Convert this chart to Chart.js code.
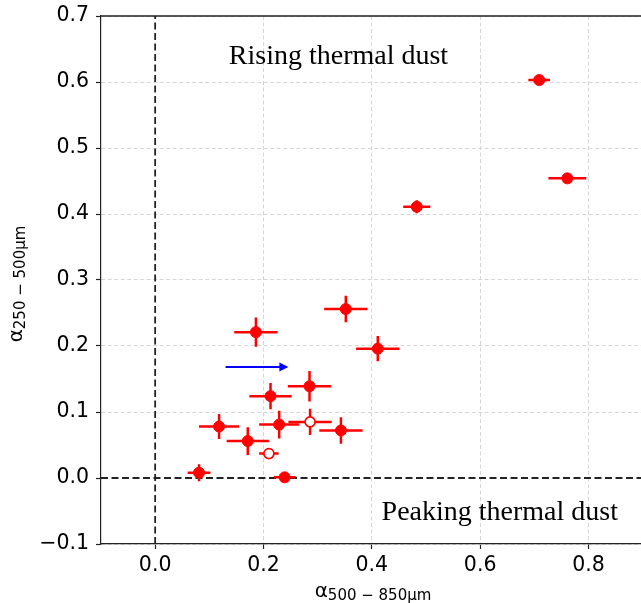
<!DOCTYPE html>
<html>
<head>
<meta charset="utf-8">
<script src="https://cdn.jsdelivr.net/npm/chart.js@4/dist/chart.umd.min.js"></script>
<style>
  html, body { margin: 0; padding: 0; background: #fff; overflow: hidden; }
  #wrap { width: 641px; height: 603px; }
</style>
</head>
<body>
<div id="wrap"><canvas id="dust" width="641" height="603"></canvas></div>
<script>
// filled points: alpha(500-850um) vs alpha(250-500um)
const fillX    = [0.709, 0.761, 0.483, 0.352, 0.411, 0.186, 0.285, 0.213, 0.118, 0.229, 0.343, 0.171, 0.081, 0.239];
const fillY    = [0.603, 0.454, 0.411, 0.256, 0.196, 0.221, 0.139, 0.124, 0.078, 0.081, 0.072, 0.056, 0.008, 0.001];
const fillXErr = [0.020, 0.035, 0.025, 0.040, 0.040, 0.040, 0.040, 0.039, 0.037, 0.037, 0.040, 0.039, 0.021, 0.020];
const fillYErr = [0.006, 0.006, 0.010, 0.020, 0.019, 0.022, 0.023, 0.020, 0.019, 0.021, 0.020, 0.021, 0.013, 0.006];

// open points
const openX    = [0.286, 0.210];
const openY    = [0.085, 0.037];
const openXErr = [0.040, 0.018];
const openYErr = [0.020, 0.004];

// blue arrow (start, end)
const arrowX = [0.130, 0.246];
const arrowY = [0.168, 0.168];

const xTicks = [0.0, 0.2, 0.4, 0.6, 0.8];
const yTicks = [-0.1, 0.0, 0.1, 0.2, 0.3, 0.4, 0.5, 0.6, 0.7];
const xMin = -0.1, xMax = 0.897;
const yMin = -0.1, yMax = 0.7;

const labelRising = 'Rising thermal dust';
const labelPeaking = 'Peaking thermal dust';

const RED = '#ff0000';
const sans = '"DejaVu Sans", sans-serif';

function pts(xs, ys) {
    return xs.map((x, i) => ({ x: x, y: ys[i] }));
}

function fmt(v) {
    const s = Math.abs(v).toFixed(1);
    return v < 0 ? '\u2212' + s : s;
}

function drawSubLabel(ctx, main, sub, x, y, rotate) {
    ctx.save();
    ctx.translate(x, y);
    if (rotate) ctx.rotate(-Math.PI / 2);
    ctx.fillStyle = '#000';
    ctx.textAlign = 'left';
    ctx.textBaseline = 'alphabetic';
    ctx.font = '20px ' + sans;
    const w1 = ctx.measureText(main).width;
    ctx.font = '15px ' + sans;
    const w2 = ctx.measureText(sub).width;
    const start = -(w1 + w2) / 2;
    ctx.font = '20px ' + sans;
    ctx.fillText(main, start, 0);
    ctx.font = '15px ' + sans;
    ctx.fillText(sub, start + w1, 2.5);
    ctx.restore();
}

const errSets = {
    filled: { xs: fillX, ys: fillY, xe: fillXErr, ye: fillYErr },
    open: { xs: openX, ys: openY, xe: openXErr, ye: openYErr }
};

const overlay = {
    id: 'overlay',
    beforeDatasetDraw(chart, args) {
        const ds = chart.data.datasets[args.index];
        const set = errSets[ds.errKey];
        if (!set) return;
        const ctx = chart.ctx, xs = chart.scales.x, ys = chart.scales.y;
        const area = chart.chartArea;
        ctx.save();
        ctx.beginPath();
        ctx.rect(area.left, area.top, area.right - area.left, area.bottom - area.top);
        ctx.clip();
        ctx.strokeStyle = RED;
        ctx.lineWidth = 2.5;
        for (let i = 0; i < set.xs.length; i++) {
            const px = xs.getPixelForValue(set.xs[i]);
            const py = ys.getPixelForValue(set.ys[i]);
            ctx.beginPath();
            ctx.moveTo(xs.getPixelForValue(set.xs[i] - set.xe[i]), py);
            ctx.lineTo(xs.getPixelForValue(set.xs[i] + set.xe[i]), py);
            ctx.moveTo(px, ys.getPixelForValue(set.ys[i] - set.ye[i]));
            ctx.lineTo(px, ys.getPixelForValue(set.ys[i] + set.ye[i]));
            ctx.stroke();
        }
        ctx.restore();
    },
    afterDatasetsDraw(chart) {
        const ctx = chart.ctx, xs = chart.scales.x, ys = chart.scales.y;
        // arrow
        const x1 = xs.getPixelForValue(arrowX[0]), y1 = ys.getPixelForValue(arrowY[0]);
        const x2 = xs.getPixelForValue(arrowX[1]), y2 = ys.getPixelForValue(arrowY[1]);
        ctx.save();
        ctx.strokeStyle = '#0000ff';
        ctx.fillStyle = '#0000ff';
        ctx.lineWidth = 2;
        ctx.beginPath();
        ctx.moveTo(x1, y1);
        ctx.lineTo(x2 - 7, y2);
        ctx.stroke();
        ctx.beginPath();
        ctx.moveTo(x2, y2);
        ctx.lineTo(x2 - 9, y2 - 4.5);
        ctx.lineTo(x2 - 9, y2 + 4.5);
        ctx.closePath();
        ctx.fill();
        // annotations
        ctx.fillStyle = '#000';
        ctx.font = '28px "Liberation Serif", serif';
        ctx.textAlign = 'left';
        ctx.textBaseline = 'alphabetic';
        ctx.fillText(labelRising, xs.getPixelForValue(0.136), ys.getPixelForValue(0.628));
        ctx.fillText(labelPeaking, xs.getPixelForValue(0.418), ys.getPixelForValue(-0.064));
        ctx.restore();
    },
    afterDraw(chart) {
        const ctx = chart.ctx, a = chart.chartArea;
        ctx.save();
        ctx.strokeStyle = '#222';
        ctx.lineWidth = 1.5;
        ctx.beginPath();
        ctx.moveTo(a.left, a.top);
        ctx.lineTo(a.right, a.top);
        ctx.stroke();
        ctx.restore();
        drawSubLabel(ctx, '\u03b1', '500 \u2212 850\u03bcm', (a.left + a.right) / 2 + 2, 597, false);
        drawSubLabel(ctx, '\u03b1', '250 \u2212 500\u03bcm', 22, (a.top + a.bottom) / 2 + 4, true);
    }
};

const gridColor = c => (c.tick && Math.abs(c.tick.value) < 1e-9) ? 'rgba(0,0,0,0)' : '#d6d6d6';

new Chart(document.getElementById('dust'), {
    type: 'scatter',
    data: {
        datasets: [
            {
                data: pts(fillX, fillY),
                errKey: 'filled',
                order: 1,
                pointRadius: 5.5,
                pointBackgroundColor: RED,
                pointBorderColor: RED,
                pointBorderWidth: 1
            },
            {
                data: pts(openX, openY),
                errKey: 'open',
                order: 0,
                pointRadius: 5,
                pointBackgroundColor: '#fff',
                pointBorderColor: RED,
                pointBorderWidth: 1.6
            },
            {
                data: [{ x: xMin, y: 0 }, { x: 1, y: 0 }],
                order: 5,
                showLine: true,
                pointRadius: 0,
                borderColor: '#222',
                borderWidth: 1.8,
                borderDash: [7, 3.5]
            },
            {
                data: [{ x: 0, y: yMin }, { x: 0, y: yMax }],
                order: 5,
                showLine: true,
                pointRadius: 0,
                borderColor: '#222',
                borderWidth: 1.8,
                borderDash: [7, 3.5]
            }
        ]
    },
    options: {
        responsive: false,
        animation: false,
        events: [],
        layout: { autoPadding: false, padding: { top: 16, right: 0, left: 0, bottom: 0 } },
        plugins: { legend: { display: false }, tooltip: { enabled: false } },
        scales: {
            x: {
                type: 'linear',
                min: xMin,
                max: xMax,
                afterBuildTicks: s => { s.ticks = xTicks.map(v => ({ value: v })); },
                afterFit: s => { s.height = 59; s.paddingLeft = 0; s.paddingRight = 0; },
                grid: { color: gridColor, lineWidth: 1, tickColor: '#222', tickLength: 5, tickWidth: 1.2 },
                border: { color: '#222', width: 1.2, dash: [4, 2.5] },
                ticks: { color: '#000', font: { family: sans, size: 20.5 }, padding: 4, callback: v => fmt(v), maxRotation: 0 }
            },
            y: {
                type: 'linear',
                min: yMin,
                max: yMax,
                afterBuildTicks: s => { s.ticks = yTicks.map(v => ({ value: v })); },
                afterFit: s => { s.width = 101; s.paddingTop = 0; s.paddingBottom = 0; },
                grid: { color: gridColor, lineWidth: 1, tickColor: '#222', tickLength: 5, tickWidth: 1.2 },
                border: { color: '#222', width: 1.2, dash: [4, 2.5] },
                ticks: { color: '#000', font: { family: sans, size: 20.5 }, padding: 7, callback: v => fmt(v) }
            }
        }
    },
    plugins: [overlay]
});
</script>
</body>
</html>
